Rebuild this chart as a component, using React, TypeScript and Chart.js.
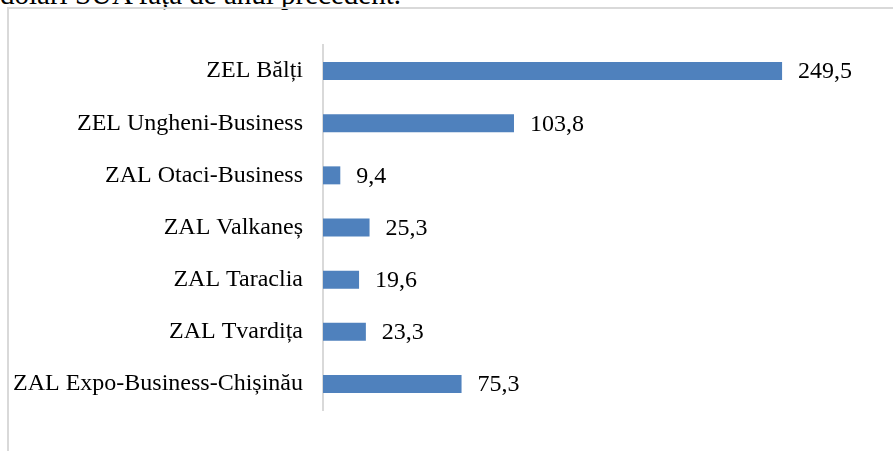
import React, { useEffect, useRef } from "react";
import { Chart, registerables } from "chart.js";

Chart.register(...registerables);

const categories = [
  "ZEL Bălți",
  "ZEL Ungheni-Business",
  "ZAL Otaci-Business",
  "ZAL Valkaneș",
  "ZAL Taraclia",
  "ZAL Tvardița",
  "ZAL Expo-Business-Chișinău",
];
const values = [249.5, 103.8, 9.4, 25.3, 19.6, 23.3, 75.3];
const valueLabels = ["249,5", "103,8", "9,4", "25,3", "19,6", "23,3", "75,3"];
const headerText = "dolari SUA față de anul precedent.";

const FONT = "'Liberation Serif', 'Times New Roman', serif";

const dataLabelPlugin = {
  id: "dataLabels",
  afterDatasetsDraw(chart: any) {
    const ctx = chart.ctx;
    const meta = chart.getDatasetMeta(0);
    ctx.save();
    ctx.font = `24px ${FONT}`;
    ctx.fillStyle = "#000";
    ctx.textAlign = "left";
    ctx.textBaseline = "middle";
    meta.data.forEach((bar: any, i: number) => {
      ctx.fillText(valueLabels[i], bar.x + 16, bar.y + 1);
    });
    ctx.restore();
  },
};

export default function App() {
  const ref = useRef<HTMLCanvasElement>(null);
  useEffect(() => {
    if (!ref.current) return;
    const chart = new Chart(ref.current, {
      type: "bar",
      data: {
        labels: categories,
        datasets: [
          {
            data: values,
            backgroundColor: "#4f81bd",
            borderWidth: 0,
            barPercentage: 0.345,
            categoryPercentage: 1,
          },
        ],
      },
      options: {
        indexAxis: "y",
        animation: false,
        responsive: false,
        maintainAspectRatio: false,
        layout: { padding: { left: 0, top: 45, bottom: 41, right: 18 } },
        plugins: { legend: { display: false }, tooltip: { enabled: false } },
        scales: {
          x: { display: false, min: 0, max: 300 },
          y: {
            afterFit(scale: any) {
              scale.width = 323;
            },
            grid: { display: false, drawTicks: false },
            border: { display: true, color: "#d9d9d9", width: 2 },
            ticks: {
              color: "#000",
              padding: 20,
              font: { family: FONT, size: 24 },
            },
          },
        },
      },
      plugins: [dataLabelPlugin],
    });
    return () => chart.destroy();
  }, []);

  return (
    <div
      style={{
        position: "fixed",
        left: 0,
        top: 0,
        width: 893,
        height: 451,
        overflow: "hidden",
        background: "#fff",
      }}
    >
      <div
        style={{
          position: "absolute",
          left: 0,
          top: -22,
          fontFamily: FONT,
          fontSize: 29,
          lineHeight: "32px",
          whiteSpace: "nowrap",
          color: "#000",
        }}
      >
        {headerText}
      </div>
      <div
        style={{
          position: "absolute",
          left: 7,
          top: 7,
          width: 1000,
          height: 1000,
          border: "2px solid #d9d9d9",
          boxSizing: "border-box",
        }}
      />
      <canvas
        ref={ref}
        width={893}
        height={451}
        style={{ position: "absolute", left: 0, top: 0 }}
      />
    </div>
  );
}
